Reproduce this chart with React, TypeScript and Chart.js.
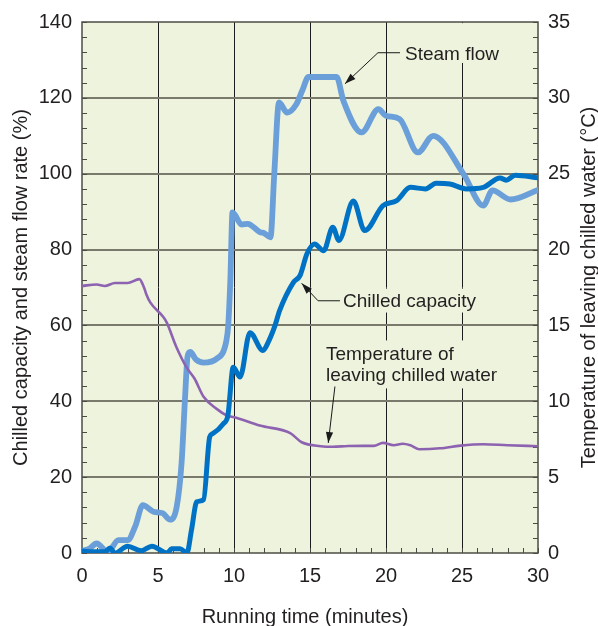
import { useEffect, useRef } from "react";
import { Chart, registerables } from "chart.js";

Chart.register(...registerables);

// ---------- data ----------
const steamTime = [0, 0.5, 0.96, 1.7, 2.4, 3.0, 3.5, 4.0, 4.7, 5.3, 5.8, 6.23, 6.55, 6.78, 6.95, 7.12, 7.5, 8.0, 8.86, 9.5, 9.62, 9.76, 9.9, 10.5, 10.9, 11.7, 12.0, 12.4, 12.65, 12.96, 13.5, 14.1, 14.5, 14.9, 16.75, 17.2, 18.4, 19.5, 20.0, 20.9, 22.1, 23.1, 25.1, 26.4, 27.0, 28.2, 30];
const steamFlow = [0.5, 1.2, 2.5, 0.3, 3.4, 3.4, 7, 12.6, 10.9, 10.5, 8.8, 12.2, 23.7, 41, 52, 53, 51, 50.2, 51.2, 56, 60, 72, 89.8, 86.6, 86.8, 84.6, 84.3, 83.2, 100, 118.8, 116.1, 118.3, 122, 125.5, 125.5, 119.2, 110.9, 117, 115.3, 114.4, 105.6, 110, 99.9, 91.6, 95.6, 93.2, 95.7];

const chillTime = [0, 0.8, 1.5, 1.84, 2.17, 3.0, 3.9, 4.6, 5.6, 5.9, 6.45, 6.9, 7.2, 7.55, 8.0, 8.4, 8.6, 9.3, 9.6, 9.95, 10.4, 11.05, 11.9, 12.3, 12.7, 13.0, 13.9, 14.35, 14.8, 15.3, 15.9, 16.5, 16.9, 17.85, 18.6, 19.8, 20.7, 21.6, 22.6, 23.3, 24.2, 25.3, 26.4, 27.5, 27.9, 28.5, 30];
const chillCapacity = [0.5, 0.3, 0.3, 1.3, 0, 1.8, 0.6, 1.8, 0, 1.1, 1.1, 0, 6, 13.5, 14.1, 30.6, 31.5, 34.1, 36.3, 49, 46.4, 58.1, 53.4, 56, 60, 63.9, 71.3, 73.2, 78.9, 81.5, 79.7, 85.9, 82.4, 92.8, 85, 91.6, 92.9, 96.4, 96, 97.5, 97.3, 96, 96.4, 98.9, 98.3, 99.6, 98.9];

const tempTime = [0, 0.96, 1.5, 2.17, 3.0, 3.77, 4.08, 4.25, 4.5, 5.35, 5.57, 6.2, 6.9, 7.4, 8.0, 8.86, 9.5, 10.2, 11.7, 13.7, 14.45, 15.7, 16.5, 17.5, 18.5, 19.2, 19.8, 20.5, 21.1, 21.6, 22.2, 23.55, 24.9, 26.4, 28, 30];
const tempLeaving = [17.6, 17.7, 17.6, 17.8, 17.8, 18.05, 17.5, 17.0, 16.5, 15.55, 15.2, 13.6, 12.2, 11.5, 10.3, 9.5, 9.08, 8.9, 8.4, 7.9, 7.3, 7.04, 7.0, 7.05, 7.06, 7.06, 7.26, 7.1, 7.2, 7.1, 6.84, 6.9, 7.08, 7.17, 7.1, 7.04];

const timeTicks = [0, 5, 10, 15, 20, 25, 30];
const pctTicks = [0, 20, 40, 60, 80, 100, 120, 140];
const tempTicks = [0, 5, 10, 15, 20, 25, 30, 35];

const xTitle = "Running time (minutes)";
const yTitle = "Chilled capacity and steam flow rate (%)";
const y1Title = "Temperature of leaving chilled water (°C)";
const steamLabel = "Steam flow";
const chillLabel = "Chilled capacity";
const tempLabel = ["Temperature of", "leaving chilled water"];

// ---------- styles ----------
const FONT = '"Liberation Sans", Arial, Helvetica, sans-serif';
const TEXT = "#231f20";
const BG = "#edf3dd";
const STEAM = "#6a9fd9";
const CHILL = "#0072c5";
const TEMP = "#8d63b1";

const pts = (xs: number[], ys: number[]) => xs.map((x, i) => ({ x, y: ys[i] }));

const decor = {
  id: "decor",
  beforeDraw(chart: any) {
    const { ctx, chartArea: a } = chart;
    ctx.save();
    ctx.fillStyle = BG;
    ctx.fillRect(a.left, a.top, a.right - a.left, a.bottom - a.top);
    ctx.restore();
  },
  beforeDatasetsDraw(chart: any) {
    const { ctx, chartArea: a } = chart;
    const xs = chart.scales.x;
    const ys = chart.scales.y;
    const y1 = chart.scales.y1;
    const X = (t: number) => xs.getPixelForValue(t);
    const Y = (v: number) => ys.getPixelForValue(v);
    ctx.save();
    // masks behind labels
    ctx.fillStyle = BG;
    const masks = [
      [20.92, 27.5, 139.7, 129.2],
      [16.84, 26.3, 69.7, 63.4],
      [15.79, 27.5, 56.05, 43.4],
    ];
    for (const [t0, t1, v0, v1] of masks) {
      ctx.fillRect(X(t0), Y(v0), X(t1) - X(t0), Y(v1) - Y(v0));
    }
    // inner minor ticks
    ctx.strokeStyle = "#4a4a42";
    ctx.lineWidth = 1;
    ctx.beginPath();
    for (let t = 0; t <= 30; t++) {
      const p = Math.round(X(t)) + 0.5;
      ctx.moveTo(p, a.bottom);
      ctx.lineTo(p, a.bottom - 5);
    }
    for (let v = 0; v <= 140; v += 4) {
      const p = Math.round(Y(v)) + 0.5;
      ctx.moveTo(a.left, p);
      ctx.lineTo(a.left + 5, p);
    }
    for (let v = 0; v <= 35; v++) {
      const p = Math.round(y1.getPixelForValue(v)) + 0.5;
      ctx.moveTo(a.right, p);
      ctx.lineTo(a.right - 5, p);
    }
    ctx.stroke();
    // frame
    ctx.strokeStyle = "#4d4d45";
    ctx.lineWidth = 1.5;
    ctx.strokeRect(a.left, a.top, a.right - a.left, a.bottom - a.top);
    ctx.restore();
  },
  afterDatasetsDraw(chart: any) {
    const { ctx } = chart;
    const xs = chart.scales.x;
    const ys = chart.scales.y;
    const X = (t: number) => xs.getPixelForValue(t);
    const Y = (v: number) => ys.getPixelForValue(v);
    ctx.save();
    ctx.fillStyle = TEXT;
    ctx.font = `19px ${FONT}`;
    ctx.textAlign = "left";
    ctx.textBaseline = "alphabetic";
    ctx.fillText(steamLabel, X(21.25), Y(130.1));
    ctx.fillText(chillLabel, X(17.17), Y(64.8));
    ctx.fillText(tempLabel[0], X(16.05), Y(50.8));
    ctx.fillText(tempLabel[1], X(16.05), Y(45.26));

    const arrow = (path: number[][]) => {
      const p = path.map(([t, v]) => [X(t), Y(v)]);
      ctx.strokeStyle = "#1a1a1a";
      ctx.lineWidth = 1;
      ctx.beginPath();
      ctx.moveTo(p[0][0], p[0][1]);
      for (let i = 1; i < p.length; i++) ctx.lineTo(p[i][0], p[i][1]);
      ctx.stroke();
      const [tx, ty] = p[p.length - 1];
      const [sx, sy] = p[p.length - 2];
      const ang = Math.atan2(ty - sy, tx - sx);
      const L = 11, W = 3.6;
      ctx.fillStyle = "#1a1a1a";
      ctx.beginPath();
      ctx.moveTo(tx, ty);
      ctx.lineTo(tx - L * Math.cos(ang) + W * Math.sin(ang), ty - L * Math.sin(ang) - W * Math.cos(ang));
      ctx.lineTo(tx - L * Math.cos(ang) - W * Math.sin(ang), ty - L * Math.sin(ang) + W * Math.cos(ang));
      ctx.closePath();
      ctx.fill();
    };
    arrow([[20.92, 131.9], [19.47, 131.9], [17.3, 123.7]]);
    arrow([[16.97, 66.5], [15.53, 66.5], [14.45, 71.1]]);
    arrow([[16.64, 43.9], [16.2, 29.0]]);
    ctx.restore();
  },
  afterDraw(chart: any) {
    const { ctx, chartArea: a } = chart;
    const cy = (a.top + a.bottom) / 2;
    ctx.save();
    ctx.fillStyle = TEXT;
    ctx.font = `20px ${FONT}`;
    ctx.textAlign = "center";
    ctx.textBaseline = "alphabetic";
    ctx.fillText(xTitle, 305, 623);
    ctx.save();
    ctx.translate(27, cy);
    ctx.rotate(-Math.PI / 2);
    ctx.fillText(yTitle, 0, 0);
    ctx.restore();
    ctx.save();
    ctx.translate(595, cy);
    ctx.rotate(-Math.PI / 2);
    ctx.fillText(y1Title, 0, 0);
    ctx.restore();
    ctx.restore();
  },
};

export default function App() {
  const ref = useRef<HTMLCanvasElement | null>(null);
  useEffect(() => {
    if (!ref.current) return;
    const tickFont = { family: FONT, size: 20 };
    const chart = new Chart(ref.current, {
      type: "line",
      data: {
        datasets: [
          {
            data: pts(chillTime, chillCapacity),
            borderColor: CHILL,
            borderWidth: 5,
            yAxisID: "y",
            order: 0,
          },
          {
            data: pts(tempTime, tempLeaving),
            borderColor: TEMP,
            borderWidth: 2.6,
            yAxisID: "y1",
            order: 1,
          },
          {
            data: pts(steamTime, steamFlow),
            borderColor: STEAM,
            borderWidth: 5.8,
            yAxisID: "y",
            order: 2,
          },
        ] as any,
      },
      options: {
        animation: false,
        responsive: false,
        maintainAspectRatio: false,
        devicePixelRatio: 1,
        layout: { padding: { top: 21, left: 0, right: 0, bottom: 0 } },
        elements: {
          point: { radius: 0 },
          line: { cubicInterpolationMode: "monotone", borderJoinStyle: "round", borderCapStyle: "round", fill: false },
        },
        plugins: { legend: { display: false }, tooltip: { enabled: false } },
        scales: {
          x: {
            type: "linear",
            min: 0,
            max: 30,
            afterFit: (s: any) => { s.height = 73; },
            border: { display: false },
            grid: {
              drawTicks: false,
              lineWidth: 1,
              color: (c: any) => {
                const v = c.tick ? c.tick.value : -1;
                return v > 0 && v < 30 && v % 5 === 0 ? "#1c1c1c" : "rgba(0,0,0,0)";
              },
            },
            ticks: {
              stepSize: 1,
              autoSkip: false,
              maxRotation: 0,
              padding: 11,
              color: TEXT,
              font: tickFont,
              callback: (v: any) => (timeTicks.includes(Number(v)) ? String(v) : ""),
            },
          },
          y: {
            type: "linear",
            position: "left",
            min: 0,
            max: 140,
            afterFit: (s: any) => { s.width = 82; },
            border: { display: false },
            grid: {
              drawTicks: false,
              lineWidth: 2,
              color: (c: any) => {
                const v = c.tick ? c.tick.value : -1;
                return v > 0 && v < 140 && v % 20 === 0 ? "#7a7a6c" : "rgba(0,0,0,0)";
              },
            },
            ticks: {
              stepSize: 4,
              autoSkip: false,
              padding: 10,
              color: TEXT,
              font: tickFont,
              callback: (v: any) => (pctTicks.includes(Number(v)) ? String(v) : ""),
            },
          },
          y1: {
            type: "linear",
            position: "right",
            min: 0,
            max: 35,
            afterFit: (s: any) => { s.width = 60; },
            border: { display: false },
            grid: { drawOnChartArea: false, drawTicks: false },
            ticks: {
              stepSize: 1,
              autoSkip: false,
              padding: 10,
              color: TEXT,
              font: tickFont,
              callback: (v: any) => (tempTicks.includes(Number(v)) ? String(v) : ""),
            },
          },
        },
      },
      plugins: [decor],
    } as any);
    return () => chart.destroy();
  }, []);
  return (
    <div style={{ position: "fixed", left: 0, top: 0, width: 598, height: 626, background: "#fff" }}>
      <canvas ref={ref} width={598} height={626} style={{ display: "block" }} />
    </div>
  );
}
